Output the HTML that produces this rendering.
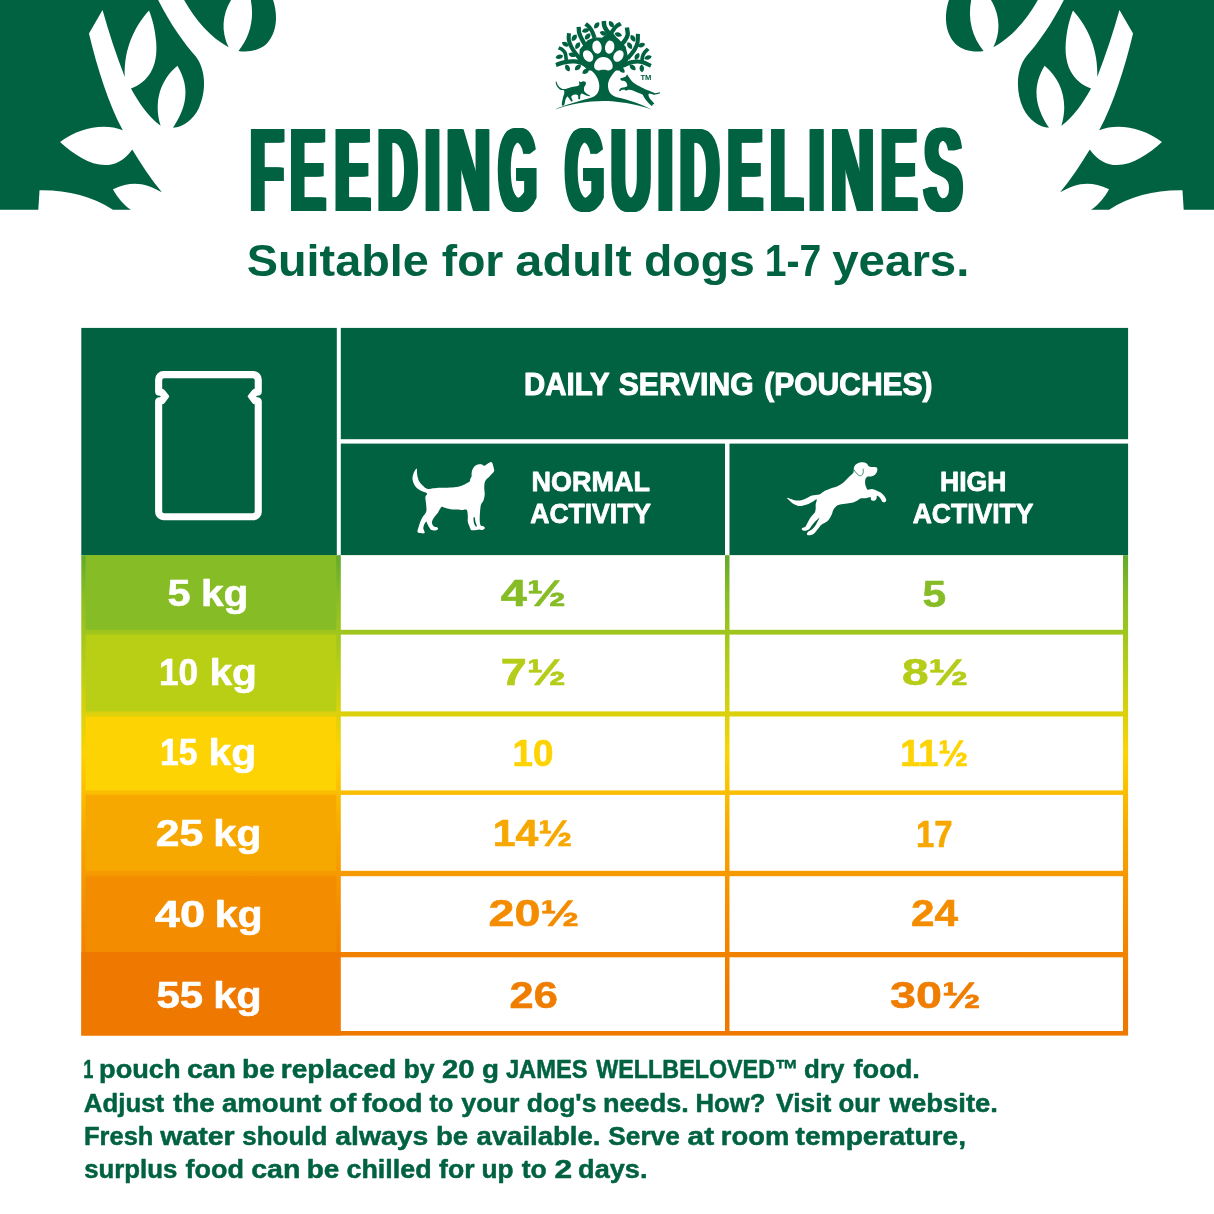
<!DOCTYPE html>
<html lang="en">
<head>
<meta charset="utf-8">
<title>Feeding Guidelines</title>
<style>
html,body{margin:0;padding:0;background:#fff;}
body{width:1214px;height:1214px;overflow:hidden;position:relative;}
svg{display:block;position:absolute;left:0;top:0;}
text{font-family:"Liberation Sans",sans-serif;font-weight:bold;white-space:pre;}
</style>
</head>
<body>
<svg width="1214" height="1214" viewBox="0 0 1214 1214">
<defs>
<linearGradient id="rowgrad" x1="0" y1="554.8" x2="0" y2="1035.4" gradientUnits="userSpaceOnUse">
<stop offset="0" stop-color="#62a92e"/>
<stop offset="0.078" stop-color="#86bc25"/>
<stop offset="0.245" stop-color="#b9cf16"/>
<stop offset="0.413" stop-color="#fdd303"/>
<stop offset="0.578" stop-color="#f7a800"/>
<stop offset="0.746" stop-color="#f48c00"/>
<stop offset="0.915" stop-color="#ef7800"/>
<stop offset="1" stop-color="#ef7800"/>
</linearGradient>
<filter id="thick" x="-5%" y="-5%" width="110%" height="110%" filterUnits="objectBoundingBox">
<feOffset in="SourceGraphic" dx="-3" dy="0" result="o0"/>
<feOffset in="SourceGraphic" dx="-2" dy="0" result="o1"/>
<feOffset in="SourceGraphic" dx="-1" dy="0" result="o2"/>
<feOffset in="SourceGraphic" dx="1" dy="0" result="o3"/>
<feOffset in="SourceGraphic" dx="2" dy="0" result="o4"/>
<feOffset in="SourceGraphic" dx="3" dy="0" result="o5"/>
<feMerge><feMergeNode in="o0"/><feMergeNode in="o1"/><feMergeNode in="o2"/><feMergeNode in="SourceGraphic"/><feMergeNode in="o3"/><feMergeNode in="o4"/><feMergeNode in="o5"/></feMerge>
</filter>
</defs>
<rect width="1214" height="1214" fill="#fff"/>
<!-- header decoration -->
<g id="corner-left"><g transform="scale(0.24712,0.2482)" fill="#006241">
<path d="M0,0 L640,0 C690,100 750,180 790,225 C835,280 835,370 805,435 C780,485 740,512 700,515 C750,440 775,360 718,265 C650,320 620,410 650,507 C600,470 565,420 530,357 C600,330 640,270 632,170 C628,120 618,80 603,42 C550,100 500,190 505,310 C470,220 440,130 415,40 L360,135 C395,280 440,420 497,525 C420,495 320,515 243,572 C330,650 450,720 535,602 C570,660 610,720 655,775 C590,740 540,725 457,762 C475,795 500,825 530,845.5 L457,845.5 C370,790 270,765 160,767 L155,845.5 L0,845.5 Z"/>
<path d="M745,0 L935,0 C898,60 895,130 925,190 C850,150 790,80 745,0 Z"/>
<path d="M1015,0 L1105,0 C1125,60 1122,130 1080,175 C1050,205 1000,212 965,205 C1010,150 1030,80 1015,0 Z"/>
</g>
</g>
<g id="corner-right" transform="translate(1222,0) scale(-1,1)"><g transform="scale(0.24712,0.2482)" fill="#006241">
<path d="M0,0 L640,0 C690,100 750,180 790,225 C835,280 835,370 805,435 C780,485 740,512 700,515 C750,440 775,360 718,265 C650,320 620,410 650,507 C600,470 565,420 530,357 C600,330 640,270 632,170 C628,120 618,80 603,42 C550,100 500,190 505,310 C470,220 440,130 415,40 L360,135 C395,280 440,420 497,525 C420,495 320,515 243,572 C330,650 450,720 535,602 C570,660 610,720 655,775 C590,740 540,725 457,762 C475,795 500,825 530,845.5 L457,845.5 C370,790 270,765 160,767 L155,845.5 L0,845.5 Z"/>
<path d="M745,0 L935,0 C898,60 895,130 925,190 C850,150 790,80 745,0 Z"/>
<path d="M1015,0 L1105,0 C1125,60 1122,130 1080,175 C1050,205 1000,212 965,205 C1010,150 1030,80 1015,0 Z"/>
</g>
</g>
<!-- logo -->
<g id="logo"><g transform="translate(550,15) scale(0.09472)" fill="#006241"><path d="M50,1000 C150,950 330,905 440,872 C500,852 525,800 520,740 C515,680 490,630 425,575 L705,575 C640,640 610,700 612,750 C615,810 645,852 705,868 C830,892 980,950 1078,1000 C900,935 700,908 565,908 C400,908 200,940 50,1000 Z"/><path d="M400,585 L320,500 L308,470 L313,365 L397,266 L470,235 L548,240 L600,200 L648,165 L700,235 L726,256 L799,334 L830,470 L810,510 L735,585 Z"/><path d="M63,527 C79,522 124,503 157,497 C190,491 231,488 261,490 C291,492 316,499 339,508 C362,517 390,539 400,545" fill="none" stroke="#006241" stroke-width="44"/><path d="M172,480 C170,468 169,426 162,407 C155,388 142,375 130,365 C118,355 98,350 91,347" fill="none" stroke="#006241" stroke-width="38"/><path d="M330,480 C320,468 289,431 271,407 C253,383 236,358 224,334 C212,310 202,284 198,261 C194,238 200,204 201,193" fill="none" stroke="#006241" stroke-width="43"/><path d="M380,330 C372,317 346,274 334,250 C322,226 313,209 308,188 C303,167 304,136 303,125" fill="none" stroke="#006241" stroke-width="45"/><path d="M470,240 C466,229 454,191 444,172 C434,153 423,138 412,125 C401,112 382,99 376,94" fill="none" stroke="#006241" stroke-width="43"/><path d="M568,63 C569,72 569,102 575,120 C581,138 594,154 606,172 C618,190 643,216 650,225" fill="none" stroke="#006241" stroke-width="48"/><path d="M640,200 C643,195 648,185 658,172 C668,159 685,134 700,120 C715,106 739,96 747,91" fill="none" stroke="#006241" stroke-width="43"/><path d="M812,132 C813,145 824,186 820,209 C816,232 802,252 789,271 C776,290 748,316 740,325" fill="none" stroke="#006241" stroke-width="46"/><path d="M928,198 C927,214 930,264 924,292 C918,320 910,337 893,365 C876,393 832,444 820,460" fill="none" stroke="#006241" stroke-width="43"/><path d="M1036,357 C1030,364 1007,383 997,397 C987,411 980,428 976,443 C972,458 972,482 971,490" fill="none" stroke="#006241" stroke-width="38"/><path d="M740,548 C746,545 757,540 778,532 C799,524 835,503 867,497 C899,491 938,489 971,496 C1004,503 1049,530 1065,537" fill="none" stroke="#006241" stroke-width="44"/><path transform="translate(99,441) rotate(-14)" d="M-41,0 C-20.5,-31.5 20.5,-31.5 41,0 C20.5,31.5 -20.5,31.5 -41,0Z"/><path transform="translate(162,308) rotate(28)" d="M-41,0 C-20.5,-31.5 20.5,-31.5 41,0 C20.5,31.5 -20.5,31.5 -41,0Z"/><path transform="translate(256,240) rotate(-53)" d="M-41,0 C-20.5,-31.5 20.5,-31.5 41,0 C20.5,31.5 -20.5,31.5 -41,0Z"/><path transform="translate(292,324) rotate(-59)" d="M-41,0 C-20.5,-31.5 20.5,-31.5 41,0 C20.5,31.5 -20.5,31.5 -41,0Z"/><path transform="translate(235,420) rotate(17)" d="M-41,0 C-20.5,-31.5 20.5,-31.5 41,0 C20.5,31.5 -20.5,31.5 -41,0Z"/><path transform="translate(185,558) rotate(63)" d="M-41,0 C-20.5,-31.5 20.5,-31.5 41,0 C20.5,31.5 -20.5,31.5 -41,0Z"/><path transform="translate(295,553) rotate(-42)" d="M-41,0 C-20.5,-31.5 20.5,-31.5 41,0 C20.5,31.5 -20.5,31.5 -41,0Z"/><path transform="translate(376,595) rotate(-33)" d="M-41,0 C-20.5,-31.5 20.5,-31.5 41,0 C20.5,31.5 -20.5,31.5 -41,0Z"/><path transform="translate(376,164) rotate(-15)" d="M-41,0 C-20.5,-31.5 20.5,-31.5 41,0 C20.5,31.5 -20.5,31.5 -41,0Z"/><path transform="translate(397,227) rotate(-47)" d="M-41,0 C-20.5,-31.5 20.5,-31.5 41,0 C20.5,31.5 -20.5,31.5 -41,0Z"/><path transform="translate(493,110) rotate(-53)" d="M-41,0 C-20.5,-31.5 20.5,-31.5 41,0 C20.5,31.5 -20.5,31.5 -41,0Z"/><path transform="translate(564,193) rotate(20)" d="M-41,0 C-20.5,-31.5 20.5,-31.5 41,0 C20.5,31.5 -20.5,31.5 -41,0Z"/><path transform="translate(648,99) rotate(57)" d="M-41,0 C-20.5,-31.5 20.5,-31.5 41,0 C20.5,31.5 -20.5,31.5 -41,0Z"/><path transform="translate(721,206) rotate(20)" d="M-41,0 C-20.5,-31.5 20.5,-31.5 41,0 C20.5,31.5 -20.5,31.5 -41,0Z"/><path transform="translate(875,245) rotate(58)" d="M-41,0 C-20.5,-31.5 20.5,-31.5 41,0 C20.5,31.5 -20.5,31.5 -41,0Z"/><path transform="translate(841,323) rotate(58)" d="M-41,0 C-20.5,-31.5 20.5,-31.5 41,0 C20.5,31.5 -20.5,31.5 -41,0Z"/><path transform="translate(966,318) rotate(-22)" d="M-41,0 C-20.5,-31.5 20.5,-31.5 41,0 C20.5,31.5 -20.5,31.5 -41,0Z"/><path transform="translate(919,438) rotate(-60)" d="M-41,0 C-20.5,-31.5 20.5,-31.5 41,0 C20.5,31.5 -20.5,31.5 -41,0Z"/><path transform="translate(1034,449) rotate(-18)" d="M-41,0 C-20.5,-31.5 20.5,-31.5 41,0 C20.5,31.5 -20.5,31.5 -41,0Z"/><path transform="translate(872,553) rotate(42)" d="M-41,0 C-20.5,-31.5 20.5,-31.5 41,0 C20.5,31.5 -20.5,31.5 -41,0Z"/><path transform="translate(969,563) rotate(85)" d="M-41,0 C-20.5,-31.5 20.5,-31.5 41,0 C20.5,31.5 -20.5,31.5 -41,0Z"/><path transform="translate(757,579) rotate(42)" d="M-41,0 C-20.5,-31.5 20.5,-31.5 41,0 C20.5,31.5 -20.5,31.5 -41,0Z"/><g fill="#fff"><ellipse cx="402" cy="433" rx="49" ry="66" transform="rotate(-33 402 433)"/><ellipse cx="496" cy="340" rx="49" ry="70" transform="rotate(-9 496 340)"/><ellipse cx="630" cy="340" rx="49" ry="70" transform="rotate(9 630 340)"/><ellipse cx="723" cy="433" rx="49" ry="66" transform="rotate(33 723 433)"/><path d="M563,443 C622,443 665,495 662,545 C660,580 630,592 600,582 C580,575 550,575 528,582 C498,592 468,580 466,545 C463,495 506,443 563,443Z"/></g><path d="M68,703 C72,708 76,733 85,745 C94,757 107,769 120,775 C133,781 147,782 165,780 C183,778 209,765 230,760 C251,755 277,755 290,750 C303,745 308,738 310,730 C312,722 302,704 305,700 C308,696 317,708 325,708 C333,708 346,699 355,700 C364,701 375,705 378,712 C381,719 378,732 375,740 C372,748 364,750 362,760 C360,770 357,789 360,800 C363,811 370,817 380,825 C390,833 414,844 420,850 C426,856 423,859 415,858 C407,857 383,850 370,845 C357,840 343,829 335,830 C327,831 323,841 320,850 C317,859 321,879 318,885 C315,891 304,894 300,888 C296,882 300,858 295,850 C290,842 280,840 270,840 C260,840 242,845 235,850 C228,855 224,861 225,870 C226,879 240,898 240,905 C240,912 232,916 225,912 C218,908 207,889 200,880 C193,871 191,858 185,860 C179,862 171,875 165,890 C159,905 157,940 150,950 C143,960 128,962 125,950 C122,938 131,900 135,880 C139,860 148,844 150,830 C152,816 152,802 145,795 C138,788 122,797 110,790 C98,783 83,768 75,755 C67,742 61,721 60,712 C59,703 64,698 68,703Z"/><path d="M742,672 C744,666 765,664 775,660 C785,656 793,655 800,650 C807,645 810,628 815,628 C820,628 822,641 828,650 C834,659 840,668 850,680 C860,692 873,708 890,720 C907,732 928,743 950,755 C972,767 1002,782 1020,790 C1038,798 1045,799 1060,805 C1075,811 1093,823 1110,825 C1127,827 1153,814 1160,815 C1167,816 1160,828 1150,832 C1140,836 1117,842 1100,842 C1083,842 1060,829 1050,830 C1040,831 1038,840 1040,850 C1042,860 1050,876 1060,890 C1070,904 1096,926 1100,935 C1104,944 1089,941 1085,945 C1081,949 1082,962 1075,960 C1068,958 1052,943 1040,930 C1028,917 1011,895 1000,880 C989,865 987,850 975,840 C963,830 946,827 930,820 C914,813 897,805 880,800 C863,795 843,790 830,790 C817,790 807,800 800,800 C793,800 797,792 790,790 C783,788 768,788 760,790 C752,792 745,804 740,805 C735,806 728,801 730,795 C732,789 740,776 750,770 C760,764 779,765 790,762 C801,759 812,757 815,750 C818,743 814,728 810,720 C806,712 798,704 790,700 C782,696 768,700 760,695 C752,690 740,678 742,672Z"/></g><text x="640.4" y="80.0" font-size="7.8" fill="#006241" textLength="11" lengthAdjust="spacingAndGlyphs">TM</text></g>
<!-- table header -->
<rect x="81.3" y="327.9" width="255.5" height="227.3" fill="#006241"/>
<rect x="340.8" y="327.9" width="787.3" height="111.3" fill="#006241"/>
<rect x="340.8" y="443.6" width="384.2" height="111.6" fill="#006241"/>
<rect x="729.5" y="443.6" width="398.6" height="111.6" fill="#006241"/>
<!-- table body -->
<rect x="81.3" y="555.2" width="1046.8" height="480.4" fill="url(#rowgrad)"/>
<rect x="85.6" y="555.2" width="250.6" height="74.6" fill="#86bc25"/>
<rect x="340.8" y="555.2" width="384.2" height="74.6" fill="#fff"/>
<rect x="729.5" y="555.2" width="393.5" height="74.6" fill="#fff"/>
<rect x="85.6" y="634.6" width="250.6" height="76.8" fill="#b9cf16"/>
<rect x="340.8" y="634.6" width="384.2" height="76.8" fill="#fff"/>
<rect x="729.5" y="634.6" width="393.5" height="76.8" fill="#fff"/>
<rect x="85.6" y="716.5" width="250.6" height="73.9" fill="#fdd303"/>
<rect x="340.8" y="716.5" width="384.2" height="73.9" fill="#fff"/>
<rect x="729.5" y="716.5" width="393.5" height="73.9" fill="#fff"/>
<rect x="85.6" y="794.9" width="250.6" height="75.9" fill="#f7a800"/>
<rect x="340.8" y="794.9" width="384.2" height="75.9" fill="#fff"/>
<rect x="729.5" y="794.9" width="393.5" height="75.9" fill="#fff"/>
<rect x="85.6" y="876.2" width="250.6" height="75.8" fill="#f48c00"/>
<rect x="340.8" y="876.2" width="384.2" height="75.8" fill="#fff"/>
<rect x="729.5" y="876.2" width="393.5" height="75.8" fill="#fff"/>
<rect x="81.4" y="952.2" width="259.4" height="83.2" fill="#ef7800"/>
<rect x="340.8" y="957.3" width="384.2" height="73.7" fill="#fff"/>
<rect x="729.5" y="957.3" width="393.5" height="73.7" fill="#fff"/>
<!-- icons -->
<g id="pouch"><path fill="#fff" fill-rule="evenodd" d="M163.50,371.10 H253.40 A8.4,8.4 0 0 1 261.80,379.50 V391.65 C261.80,394.15 260.10,395.60 257.10,395.75 L256.00,396.45 L257.10,397.15 C260.10,397.30 261.80,398.75 261.80,401.25 V511.90 A8.4,8.4 0 0 1 253.40,520.30 H163.50 A8.4,8.4 0 0 1 155.10,511.90 V401.25 C155.10,398.75 156.80,397.30 159.80,397.15 L160.90,396.45 L159.80,395.75 C156.80,395.60 155.10,394.15 155.10,391.65 V379.50 A8.4,8.4 0 0 1 163.50,371.10 Z M164.20,378.20 A2.0,2.0 0 0 0 162.20,380.20 V388.65 Q163.70,388.65 164.80,390.25 L168.90,395.55 Q169.50,396.45 168.90,397.35 L164.80,402.65 Q163.70,404.25 162.20,404.25 V511.20 A2.0,2.0 0 0 0 164.20,513.20 H252.70 A2.0,2.0 0 0 0 254.70,511.20 V404.25 Q253.20,404.25 252.10,402.65 L248.00,397.35 Q247.40,396.45 248.00,395.55 L252.10,390.25 Q253.20,388.65 254.70,388.65 V380.20 A2.0,2.0 0 0 0 252.70,378.20 Z"/></g>
<g id="dog-normal"><g transform="translate(400,450) scale(0.09061)"><path fill="#fff" d="M180.0,207.0 C174.2,212.8 159.0,231.2 152.0,250.0 C145.0,268.8 135.8,295.8 138.0,320.0 C140.2,344.2 150.5,373.7 165.0,395.0 C179.5,416.3 203.0,434.2 225.0,448.0 C247.0,461.8 287.8,466.0 297.0,478.0 C306.2,490.0 281.5,499.7 280.0,520.0 C278.5,540.3 286.3,573.3 288.0,600.0 C289.7,626.7 296.3,656.7 290.0,680.0 C283.7,703.3 260.8,721.7 250.0,740.0 C239.2,758.3 232.5,771.7 225.0,790.0 C217.5,808.3 210.3,832.5 205.0,850.0 C199.7,867.5 193.0,884.3 193.0,895.0 C193.0,905.7 193.5,909.8 205.0,914.0 C216.5,918.2 250.8,921.5 262.0,920.0 C273.2,918.5 272.7,913.3 272.0,905.0 C271.3,896.7 259.3,882.5 258.0,870.0 C256.7,857.5 258.7,843.3 264.0,830.0 C269.3,816.7 284.0,793.0 290.0,790.0 C296.0,787.0 295.0,802.0 300.0,812.0 C305.0,822.0 312.0,838.2 320.0,850.0 C328.0,861.8 334.7,877.2 348.0,883.0 C361.3,888.8 388.0,887.5 400.0,885.0 C412.0,882.5 418.7,873.5 420.0,868.0 C421.3,862.5 415.5,855.8 408.0,852.0 C400.5,848.2 383.8,851.2 375.0,845.0 C366.2,838.8 358.2,825.8 355.0,815.0 C351.8,804.2 351.8,792.5 356.0,780.0 C360.2,767.5 369.3,755.0 380.0,740.0 C390.7,725.0 408.3,707.2 420.0,690.0 C431.7,672.8 441.3,647.3 450.0,637.0 C458.7,626.7 460.3,626.7 472.0,628.0 C483.7,629.3 498.7,640.0 520.0,645.0 C541.3,650.0 573.3,655.2 600.0,658.0 C626.7,660.8 657.5,661.7 680.0,662.0 C702.5,662.3 723.7,650.3 735.0,660.0 C746.3,669.7 745.8,698.3 748.0,720.0 C750.2,741.7 745.2,770.0 748.0,790.0 C750.8,810.0 759.3,825.0 765.0,840.0 C770.7,855.0 775.3,872.3 782.0,880.0 C788.7,887.7 793.7,885.5 805.0,886.0 C816.3,886.5 838.8,884.3 850.0,883.0 C861.2,881.7 863.7,877.8 872.0,878.0 C880.3,878.2 890.3,885.0 900.0,884.0 C909.7,883.0 924.2,876.8 930.0,872.0 C935.8,867.2 937.5,860.3 935.0,855.0 C932.5,849.7 922.5,844.2 915.0,840.0 C907.5,835.8 895.8,840.0 890.0,830.0 C884.2,820.0 881.3,801.7 880.0,780.0 C878.7,758.3 880.3,726.7 882.0,700.0 C883.7,673.3 887.0,638.3 890.0,620.0 C893.0,601.7 895.0,600.0 900.0,590.0 C905.0,580.0 914.2,576.7 920.0,560.0 C925.8,543.3 933.3,513.3 935.0,490.0 C936.7,466.7 929.2,444.2 930.0,420.0 C930.8,395.8 930.0,366.7 940.0,345.0 C950.0,323.3 974.2,307.5 990.0,290.0 C1005.8,272.5 1027.0,252.5 1035.0,240.0 C1043.0,227.5 1038.8,225.0 1038.0,215.0 C1037.2,205.0 1033.0,191.7 1030.0,180.0 C1027.0,168.3 1024.2,153.0 1020.0,145.0 C1015.8,137.0 1010.8,132.5 1005.0,132.0 C999.2,131.5 995.8,135.7 985.0,142.0 C974.2,148.3 950.8,165.0 940.0,170.0 C929.2,175.0 926.7,174.0 920.0,172.0 C913.3,170.0 908.3,160.3 900.0,158.0 C891.7,155.7 881.7,155.2 870.0,158.0 C858.3,160.8 841.7,165.5 830.0,175.0 C818.3,184.5 806.7,200.8 800.0,215.0 C793.3,229.2 791.7,247.5 790.0,260.0 C788.3,272.5 792.5,280.0 790.0,290.0 C787.5,300.0 778.3,310.8 775.0,320.0 C771.7,329.2 775.8,337.5 770.0,345.0 C764.2,352.5 755.0,356.7 740.0,365.0 C725.0,373.3 703.3,387.2 680.0,395.0 C656.7,402.8 630.0,408.2 600.0,412.0 C570.0,415.8 533.3,416.7 500.0,418.0 C466.7,419.3 426.7,418.3 400.0,420.0 C373.3,421.7 355.0,426.3 340.0,428.0 C325.0,429.7 321.7,433.0 310.0,430.0 C298.3,427.0 285.0,421.7 270.0,410.0 C255.0,398.3 232.5,378.3 220.0,360.0 C207.5,341.7 200.3,318.3 195.0,300.0 C189.7,281.7 189.3,264.2 188.0,250.0 C186.7,235.8 188.3,222.2 187.0,215.0 C185.7,207.8 185.8,201.2 180.0,207.0Z"/><path fill="#006241" d="M812.0,745.0 C813.8,736.3 822.7,740.5 826.0,748.0 C829.3,755.5 828.3,775.0 832.0,790.0 C835.7,805.0 847.5,829.3 848.0,838.0 C848.5,846.7 840.5,848.3 835.0,842.0 C829.5,835.7 818.8,816.2 815.0,800.0 C811.2,783.8 810.2,753.7 812.0,745.0Z"/></g></g>
<g id="dog-high"><g transform="translate(775,450) scale(0.10297)"><path fill="#fff" d="M118.0,465.0 C123.0,462.5 159.7,480.8 180.0,485.0 C200.3,489.2 220.0,492.5 240.0,490.0 C260.0,487.5 280.0,478.0 300.0,470.0 C320.0,462.0 338.3,448.3 360.0,442.0 C381.7,435.7 411.7,438.2 430.0,432.0 C448.3,425.8 451.7,414.5 470.0,405.0 C488.3,395.5 515.0,385.0 540.0,375.0 C565.0,365.0 596.7,357.5 620.0,345.0 C643.3,332.5 663.3,314.2 680.0,300.0 C696.7,285.8 706.7,273.0 720.0,260.0 C733.3,247.0 752.5,235.3 760.0,222.0 C767.5,208.7 762.5,192.0 765.0,180.0 C767.5,168.0 769.2,158.3 775.0,150.0 C780.8,141.7 787.5,135.0 800.0,130.0 C812.5,125.0 835.0,120.0 850.0,120.0 C865.0,120.0 879.2,123.3 890.0,130.0 C900.8,136.7 903.3,154.2 915.0,160.0 C926.7,165.8 947.5,163.0 960.0,165.0 C972.5,167.0 984.7,165.3 990.0,172.0 C995.3,178.7 994.5,194.5 992.0,205.0 C989.5,215.5 983.7,226.7 975.0,235.0 C966.3,243.3 952.5,251.2 940.0,255.0 C927.5,258.8 910.0,253.8 900.0,258.0 C890.0,262.2 884.2,269.7 880.0,280.0 C875.8,290.3 874.2,306.7 875.0,320.0 C875.8,333.3 880.8,349.2 885.0,360.0 C889.2,370.8 889.2,381.7 900.0,385.0 C910.8,388.3 935.0,378.3 950.0,380.0 C965.0,381.7 976.7,389.2 990.0,395.0 C1003.3,400.8 1018.3,406.7 1030.0,415.0 C1041.7,423.3 1051.7,433.3 1060.0,445.0 C1068.3,456.7 1078.3,475.0 1080.0,485.0 C1081.7,495.0 1075.8,501.7 1070.0,505.0 C1064.2,508.3 1051.7,509.2 1045.0,505.0 C1038.3,500.8 1035.8,488.3 1030.0,480.0 C1024.2,471.7 1016.7,460.8 1010.0,455.0 C1003.3,449.2 994.2,441.7 990.0,445.0 C985.8,448.3 989.2,467.2 985.0,475.0 C980.8,482.8 972.5,489.5 965.0,492.0 C957.5,494.5 945.8,492.8 940.0,490.0 C934.2,487.2 931.7,480.0 930.0,475.0 C928.3,470.0 938.3,461.2 930.0,460.0 C921.7,458.8 896.7,466.3 880.0,468.0 C863.3,469.7 843.3,466.3 830.0,470.0 C816.7,473.7 811.7,483.3 800.0,490.0 C788.3,496.7 776.7,505.0 760.0,510.0 C743.3,515.0 721.7,516.7 700.0,520.0 C678.3,523.3 648.3,525.0 630.0,530.0 C611.7,535.0 600.8,540.8 590.0,550.0 C579.2,559.2 571.7,571.7 565.0,585.0 C558.3,598.3 557.5,614.2 550.0,630.0 C542.5,645.8 531.7,666.7 520.0,680.0 C508.3,693.3 492.5,701.7 480.0,710.0 C467.5,718.3 455.8,720.0 445.0,730.0 C434.2,740.0 425.8,756.7 415.0,770.0 C404.2,783.3 392.5,800.3 380.0,810.0 C367.5,819.7 351.3,826.0 340.0,828.0 C328.7,830.0 316.2,826.7 312.0,822.0 C307.8,817.3 309.5,807.0 315.0,800.0 C320.5,793.0 335.0,787.5 345.0,780.0 C355.0,772.5 365.8,765.0 375.0,755.0 C384.2,745.0 390.8,735.8 400.0,720.0 C409.2,704.2 430.8,665.0 430.0,660.0 C429.2,655.0 406.7,678.3 395.0,690.0 C383.3,701.7 370.8,716.7 360.0,730.0 C349.2,743.3 341.7,760.8 330.0,770.0 C318.3,779.2 301.3,784.2 290.0,785.0 C278.7,785.8 266.2,779.5 262.0,775.0 C257.8,770.5 259.5,763.0 265.0,758.0 C270.5,753.0 285.8,754.7 295.0,745.0 C304.2,735.3 311.7,715.0 320.0,700.0 C328.3,685.0 334.2,670.0 345.0,655.0 C355.8,640.0 376.7,624.2 385.0,610.0 C393.3,595.8 393.3,583.3 395.0,570.0 C396.7,556.7 393.3,545.0 395.0,530.0 C396.7,515.0 409.2,485.0 405.0,480.0 C400.8,475.0 385.8,491.7 370.0,500.0 C354.2,508.3 331.7,522.5 310.0,530.0 C288.3,537.5 260.0,545.0 240.0,545.0 C220.0,545.0 205.0,537.5 190.0,530.0 C175.0,522.5 162.0,510.8 150.0,500.0 C138.0,489.2 113.0,467.5 118.0,465.0Z"/><path fill="none" stroke="#006241" stroke-width="7" stroke-linecap="round" d="M768.0,192.0 C771.7,197.5 781.0,215.3 790.0,225.0 C799.0,234.7 812.3,247.5 822.0,250.0 C831.7,252.5 842.0,246.7 848.0,240.0 C854.0,233.3 856.8,219.2 858.0,210.0 C859.2,200.8 855.5,189.2 855.0,185.0"/></g></g>
<!-- text -->
<g filter="url(#thick)"><text aria-label="FEEDING GUIDELINES" y="211.0" font-size="118.3" fill="#006241"><tspan x="250.26" textLength="33.23" lengthAdjust="spacingAndGlyphs">F</tspan><tspan x="290.51" textLength="34.83" lengthAdjust="spacingAndGlyphs">E</tspan><tspan x="334.98" textLength="35.07" lengthAdjust="spacingAndGlyphs">E</tspan><tspan x="377.74" textLength="39.57" lengthAdjust="spacingAndGlyphs">D</tspan><tspan x="424.88" textLength="15.04" lengthAdjust="spacingAndGlyphs">I</tspan><tspan x="446.53" textLength="43.98" lengthAdjust="spacingAndGlyphs">N</tspan><tspan x="498.71" textLength="37.81" lengthAdjust="spacingAndGlyphs">G</tspan> <tspan x="565.48" textLength="38.38" lengthAdjust="spacingAndGlyphs">G</tspan><tspan x="610.95" textLength="40.25" lengthAdjust="spacingAndGlyphs">U</tspan><tspan x="657.73" textLength="15.24" lengthAdjust="spacingAndGlyphs">I</tspan><tspan x="679.85" textLength="39.45" lengthAdjust="spacingAndGlyphs">D</tspan><tspan x="727.82" textLength="34.71" lengthAdjust="spacingAndGlyphs">E</tspan><tspan x="770.48" textLength="32.14" lengthAdjust="spacingAndGlyphs">L</tspan><tspan x="808.79" textLength="15.82" lengthAdjust="spacingAndGlyphs">I</tspan><tspan x="831.02" textLength="42.99" lengthAdjust="spacingAndGlyphs">N</tspan><tspan x="880.90" textLength="35.90" lengthAdjust="spacingAndGlyphs">E</tspan><tspan x="924.04" textLength="38.41" lengthAdjust="spacingAndGlyphs">S</tspan></text></g>
<text aria-label="Suitable for adult dogs 1-7 years." y="276.0" font-size="45.2" fill="#006241"><tspan x="246.85" textLength="181.95" lengthAdjust="spacingAndGlyphs">Suitable</tspan> <tspan x="441.81" textLength="61.49" lengthAdjust="spacingAndGlyphs">for</tspan> <tspan x="515.37" textLength="116.32" lengthAdjust="spacingAndGlyphs">adult</tspan> <tspan x="644.00" textLength="110.91" lengthAdjust="spacingAndGlyphs">dogs</tspan> <tspan x="764.73" textLength="56.59" lengthAdjust="spacingAndGlyphs">1-7</tspan> <tspan x="832.23" textLength="137.24" lengthAdjust="spacingAndGlyphs">years.</tspan></text>
<text aria-label="DAILY SERVING (POUCHES)" y="395.3" font-size="30.8" fill="#fff" stroke="#fff" stroke-width="1.0" stroke-linejoin="round"><tspan x="524.10" textLength="85.05" lengthAdjust="spacingAndGlyphs">DAILY</tspan> <tspan x="618.84" textLength="134.72" lengthAdjust="spacingAndGlyphs">SERVING</tspan> <tspan x="764.21" textLength="168.39" lengthAdjust="spacingAndGlyphs">(POUCHES)</tspan></text>
<text aria-label="NORMAL" y="490.8" font-size="27.2" fill="#fff" stroke="#fff" stroke-width="0.8" stroke-linejoin="round"><tspan x="531.60" textLength="118.33" lengthAdjust="spacingAndGlyphs">NORMAL</tspan></text>
<text aria-label="ACTIVITY" y="522.7" font-size="27.2" fill="#fff" stroke="#fff" stroke-width="0.8" stroke-linejoin="round"><tspan x="530.24" textLength="120.79" lengthAdjust="spacingAndGlyphs">ACTIVITY</tspan></text>
<text aria-label="HIGH" y="490.8" font-size="27.2" fill="#fff" stroke="#fff" stroke-width="0.8" stroke-linejoin="round"><tspan x="940.02" textLength="66.36" lengthAdjust="spacingAndGlyphs">HIGH</tspan></text>
<text aria-label="ACTIVITY" y="522.7" font-size="27.2" fill="#fff" stroke="#fff" stroke-width="0.8" stroke-linejoin="round"><tspan x="912.74" textLength="120.69" lengthAdjust="spacingAndGlyphs">ACTIVITY</tspan></text>
<text aria-label="5 kg" y="606.4" font-size="36.8" fill="#fff" stroke="#fff" stroke-width="0.6" stroke-linejoin="round"><tspan x="167.43" textLength="23.03" lengthAdjust="spacingAndGlyphs">5</tspan> <tspan x="200.95" textLength="47.57" lengthAdjust="spacingAndGlyphs">kg</tspan></text>
<text aria-label="10 kg" y="685.4" font-size="36.8" fill="#fff" stroke="#fff" stroke-width="0.6" stroke-linejoin="round"><tspan x="158.89" textLength="39.05" lengthAdjust="spacingAndGlyphs">10</tspan> <tspan x="209.45" textLength="47.57" lengthAdjust="spacingAndGlyphs">kg</tspan></text>
<text aria-label="15 kg" y="765.2" font-size="36.8" fill="#fff" stroke="#fff" stroke-width="0.6" stroke-linejoin="round"><tspan x="159.98" textLength="37.46" lengthAdjust="spacingAndGlyphs">15</tspan> <tspan x="208.45" textLength="47.69" lengthAdjust="spacingAndGlyphs">kg</tspan></text>
<text aria-label="25 kg" y="846.4" font-size="36.8" fill="#fff" stroke="#fff" stroke-width="0.6" stroke-linejoin="round"><tspan x="155.82" textLength="47.57" lengthAdjust="spacingAndGlyphs">25</tspan> <tspan x="213.21" textLength="48.25" lengthAdjust="spacingAndGlyphs">kg</tspan></text>
<text aria-label="40 kg" y="926.5" font-size="36.8" fill="#fff" stroke="#fff" stroke-width="0.6" stroke-linejoin="round"><tspan x="154.82" textLength="50.24" lengthAdjust="spacingAndGlyphs">40</tspan> <tspan x="214.73" textLength="48.03" lengthAdjust="spacingAndGlyphs">kg</tspan></text>
<text aria-label="55 kg" y="1007.8" font-size="36.8" fill="#fff" stroke="#fff" stroke-width="0.6" stroke-linejoin="round"><tspan x="156.41" textLength="46.55" lengthAdjust="spacingAndGlyphs">55</tspan> <tspan x="213.19" textLength="48.59" lengthAdjust="spacingAndGlyphs">kg</tspan></text>
<text aria-label="4½" y="606.4" font-size="37.6" fill="#86bc25" stroke="#86bc25" stroke-width="0.6" stroke-linejoin="round"><tspan x="500.89" textLength="65.21" lengthAdjust="spacingAndGlyphs">4½</tspan></text>
<text aria-label="7½" y="685.2" font-size="37.6" fill="#b5cc18" stroke="#b5cc18" stroke-width="0.6" stroke-linejoin="round"><tspan x="500.88" textLength="65.21" lengthAdjust="spacingAndGlyphs">7½</tspan></text>
<text aria-label="10" y="765.5" font-size="37.6" fill="#fdd303" stroke="#fdd303" stroke-width="0.6" stroke-linejoin="round"><tspan x="512.58" textLength="40.93" lengthAdjust="spacingAndGlyphs">10</tspan></text>
<text aria-label="14½" y="846.4" font-size="37.6" fill="#f7a800" stroke="#f7a800" stroke-width="0.6" stroke-linejoin="round"><tspan x="492.72" textLength="79.70" lengthAdjust="spacingAndGlyphs">14½</tspan></text>
<text aria-label="20½" y="926.2" font-size="37.6" fill="#f48c00" stroke="#f48c00" stroke-width="0.6" stroke-linejoin="round"><tspan x="488.58" textLength="90.70" lengthAdjust="spacingAndGlyphs">20½</tspan></text>
<text aria-label="26" y="1008.0" font-size="37.6" fill="#ef7d00" stroke="#ef7d00" stroke-width="0.6" stroke-linejoin="round"><tspan x="509.60" textLength="48.27" lengthAdjust="spacingAndGlyphs">26</tspan></text>
<text aria-label="5" y="606.8" font-size="37.6" fill="#86bc25" stroke="#86bc25" stroke-width="0.6" stroke-linejoin="round"><tspan x="922.50" textLength="23.58" lengthAdjust="spacingAndGlyphs">5</tspan></text>
<text aria-label="8½" y="685.4" font-size="37.6" fill="#b5cc18" stroke="#b5cc18" stroke-width="0.6" stroke-linejoin="round"><tspan x="901.98" textLength="66.56" lengthAdjust="spacingAndGlyphs">8½</tspan></text>
<text aria-label="11½" y="765.6" font-size="37.6" fill="#fdd303" stroke="#fdd303" stroke-width="0.6" stroke-linejoin="round"><tspan x="900.19" textLength="68.15" lengthAdjust="spacingAndGlyphs">11½</tspan></text>
<text aria-label="17" y="846.8" font-size="37.6" fill="#f7a800" stroke="#f7a800" stroke-width="0.6" stroke-linejoin="round"><tspan x="916.03" textLength="36.62" lengthAdjust="spacingAndGlyphs">17</tspan></text>
<text aria-label="24" y="926.2" font-size="37.6" fill="#f48c00" stroke="#f48c00" stroke-width="0.6" stroke-linejoin="round"><tspan x="910.93" textLength="47.10" lengthAdjust="spacingAndGlyphs">24</tspan></text>
<text aria-label="30½" y="1008.0" font-size="37.6" fill="#ef7d00" stroke="#ef7d00" stroke-width="0.6" stroke-linejoin="round"><tspan x="890.13" textLength="90.76" lengthAdjust="spacingAndGlyphs">30½</tspan></text>
<text aria-label="1 pouch can be replaced by 20 g JAMES WELLBELOVED™ dry food." y="1078.4" font-size="26.0" fill="#006241" stroke="#006241" stroke-width="0.5" stroke-linejoin="round"><tspan x="83.30" textLength="10.12" lengthAdjust="spacingAndGlyphs">1</tspan> <tspan x="99.06" textLength="81.47" lengthAdjust="spacingAndGlyphs">pouch</tspan> <tspan x="186.94" textLength="49.08" lengthAdjust="spacingAndGlyphs">can</tspan> <tspan x="242.11" textLength="32.60" lengthAdjust="spacingAndGlyphs">be</tspan> <tspan x="280.80" textLength="115.30" lengthAdjust="spacingAndGlyphs">replaced</tspan> <tspan x="403.49" textLength="31.21" lengthAdjust="spacingAndGlyphs">by</tspan> <tspan x="441.93" textLength="32.62" lengthAdjust="spacingAndGlyphs">20</tspan> <tspan x="481.91" textLength="17.00" lengthAdjust="spacingAndGlyphs">g</tspan> <tspan x="505.89" textLength="81.69" lengthAdjust="spacingAndGlyphs">JAMES</tspan> <tspan x="596.33" textLength="201.99" lengthAdjust="spacingAndGlyphs">WELLBELOVED™</tspan> <tspan x="804.09" textLength="40.30" lengthAdjust="spacingAndGlyphs">dry</tspan> <tspan x="853.49" textLength="66.44" lengthAdjust="spacingAndGlyphs">food.</tspan></text>
<text aria-label="Adjust the amount of food to your dog's needs. How? Visit our website." y="1111.5" font-size="26.0" fill="#006241" stroke="#006241" stroke-width="0.5" stroke-linejoin="round"><tspan x="83.81" textLength="80.36" lengthAdjust="spacingAndGlyphs">Adjust</tspan> <tspan x="172.91" textLength="41.69" lengthAdjust="spacingAndGlyphs">the</tspan> <tspan x="222.04" textLength="99.44" lengthAdjust="spacingAndGlyphs">amount</tspan> <tspan x="329.23" textLength="26.96" lengthAdjust="spacingAndGlyphs">of</tspan> <tspan x="362.07" textLength="60.42" lengthAdjust="spacingAndGlyphs">food</tspan> <tspan x="429.54" textLength="23.69" lengthAdjust="spacingAndGlyphs">to</tspan> <tspan x="461.24" textLength="58.12" lengthAdjust="spacingAndGlyphs">your</tspan> <tspan x="526.76" textLength="69.68" lengthAdjust="spacingAndGlyphs">dog's</tspan> <tspan x="603.07" textLength="85.64" lengthAdjust="spacingAndGlyphs">needs.</tspan> <tspan x="695.43" textLength="69.90" lengthAdjust="spacingAndGlyphs">How?</tspan> <tspan x="775.97" textLength="55.40" lengthAdjust="spacingAndGlyphs">Visit</tspan> <tspan x="838.44" textLength="41.70" lengthAdjust="spacingAndGlyphs">our</tspan> <tspan x="889.63" textLength="108.31" lengthAdjust="spacingAndGlyphs">website.</tspan></text>
<text aria-label="Fresh water should always be available. Serve at room temperature," y="1145.0" font-size="26.0" fill="#006241" stroke="#006241" stroke-width="0.5" stroke-linejoin="round"><tspan x="84.05" textLength="69.28" lengthAdjust="spacingAndGlyphs">Fresh</tspan> <tspan x="160.23" textLength="74.45" lengthAdjust="spacingAndGlyphs">water</tspan> <tspan x="242.24" textLength="85.13" lengthAdjust="spacingAndGlyphs">should</tspan> <tspan x="335.32" textLength="92.99" lengthAdjust="spacingAndGlyphs">always</tspan> <tspan x="435.93" textLength="32.27" lengthAdjust="spacingAndGlyphs">be</tspan> <tspan x="476.44" textLength="124.00" lengthAdjust="spacingAndGlyphs">available.</tspan> <tspan x="608.29" textLength="71.55" lengthAdjust="spacingAndGlyphs">Serve</tspan> <tspan x="687.58" textLength="26.54" lengthAdjust="spacingAndGlyphs">at</tspan> <tspan x="720.85" textLength="68.40" lengthAdjust="spacingAndGlyphs">room</tspan> <tspan x="795.61" textLength="170.43" lengthAdjust="spacingAndGlyphs">temperature,</tspan></text>
<text aria-label="surplus food can be chilled for up to 2 days." y="1177.8" font-size="26.0" fill="#006241" stroke="#006241" stroke-width="0.5" stroke-linejoin="round"><tspan x="84.14" textLength="93.16" lengthAdjust="spacingAndGlyphs">surplus</tspan> <tspan x="185.49" textLength="58.44" lengthAdjust="spacingAndGlyphs">food</tspan> <tspan x="251.23" textLength="49.29" lengthAdjust="spacingAndGlyphs">can</tspan> <tspan x="306.71" textLength="32.60" lengthAdjust="spacingAndGlyphs">be</tspan> <tspan x="346.50" textLength="85.12" lengthAdjust="spacingAndGlyphs">chilled</tspan> <tspan x="439.10" textLength="35.46" lengthAdjust="spacingAndGlyphs">for</tspan> <tspan x="481.43" textLength="32.00" lengthAdjust="spacingAndGlyphs">up</tspan> <tspan x="521.73" textLength="25.06" lengthAdjust="spacingAndGlyphs">to</tspan> <tspan x="554.45" textLength="17.67" lengthAdjust="spacingAndGlyphs">2</tspan> <tspan x="578.14" textLength="69.38" lengthAdjust="spacingAndGlyphs">days.</tspan></text>
</svg>
</body>
</html>
